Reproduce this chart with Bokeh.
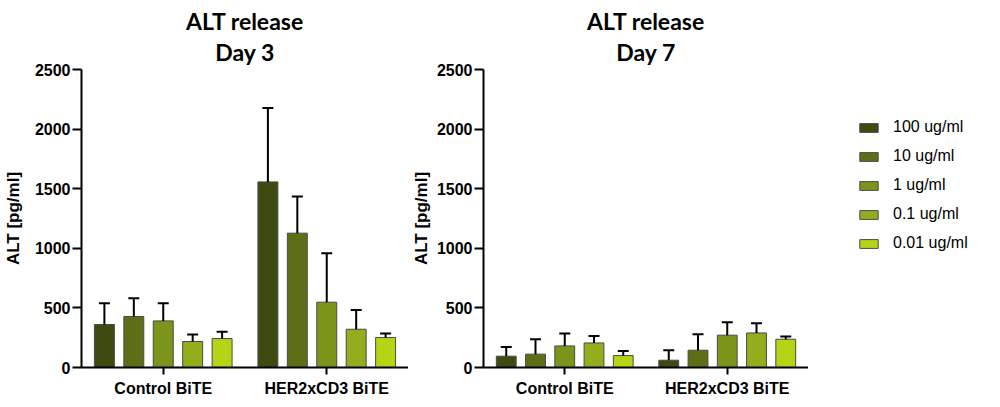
from bokeh.plotting import figure
from bokeh.models import (ColumnDataSource, FactorRange, Range1d, FixedTicker,
                          Title, Legend, LegendItem)
from bokeh.transform import dodge
from bokeh.layouts import row
from bokeh.embed import file_html
from bokeh.resources import INLINE

categories = ["Control BiTE", "HER2xCD3 BiTE"]
doses = ["100 ug/ml", "10 ug/ml", "1 ug/ml", "0.1 ug/ml", "0.01 ug/ml"]
colors = ["#3d4b10", "#5c6f17", "#7a951a", "#93ae1d", "#b6d416"]
y_ticks = [0, 500, 1000, 1500, 2000, 2500]

day3_control_mean = [361, 428, 391, 218, 243]
day3_control_sd = [178, 153, 148, 59, 56]
day3_her2_mean = [1557, 1127, 548, 321, 252]
day3_her2_sd = [621, 308, 411, 162, 33]

day7_control_mean = [95, 112, 181, 206, 100]
day7_control_sd = [78, 125, 104, 59, 39]
day7_her2_mean = [61, 145, 271, 290, 237]
day7_her2_sd = [84, 134, 109, 82, 23]

BAR_W = 0.122
STEP = 0.18
TXT = "Liberation Sans"
TITLE_FONT = "Lato"
BAR_LINE = "#4a4a4a"


def dose_sources(c_mean, c_sd, h_mean, h_sd):
    return [ColumnDataSource(dict(
        cat=categories,
        mean=[c_mean[i], h_mean[i]],
        upper=[c_mean[i] + c_sd[i], h_mean[i] + h_sd[i]],
    )) for i in range(len(doses))]


def make_panel(day, sources, fw, toff, label_standoff):
    p = figure(x_range=FactorRange(factors=categories, range_padding=0),
               y_range=Range1d(0, 2500),
               frame_width=fw, frame_height=298,
               min_border_left=0, min_border_right=0,
               min_border_top=0, min_border_bottom=0,
               output_backend="svg", toolbar_location=None,
               title=" ")
    # spacer title on the outside, then the two centred title lines
    p.title.text_font_size = "1px"
    p.title.standoff = 4
    p.add_layout(Title(text=day, align="center", offset=toff, standoff=8,
                       text_font=TITLE_FONT, text_font_size="23px",
                       text_font_style="bold", text_color="black"), "above")
    p.add_layout(Title(text="ALT release", align="center", offset=toff,
                       standoff=-6, text_font=TITLE_FONT,
                       text_font_size="23px", text_font_style="bold",
                       text_color="black"), "above")

    for i, (src, col) in enumerate(zip(sources, colors)):
        xs = dodge("cat", (i - 2) * STEP, range=p.x_range)
        p.vbar(x=xs, top="mean", width=BAR_W, bottom=0, source=src,
               fill_color=col, line_color=BAR_LINE, line_width=1)
        p.segment(x0=xs, y0="mean", x1=xs, y1="upper", source=src,
                  line_color="black", line_width=2)
        p.scatter(x=xs, y="upper", source=src, marker="dash", size=11,
                  line_color="black", line_width=2)

    p.xgrid.grid_line_color = None
    p.ygrid.grid_line_color = None
    p.outline_line_color = None

    p.yaxis.ticker = FixedTicker(ticks=y_ticks)
    p.yaxis.axis_label = "ALT [pg/ml]"
    p.yaxis.axis_label_text_font = TXT
    p.yaxis.axis_label_text_font_size = "17px"
    p.yaxis.axis_label_text_font_style = "bold"
    p.yaxis.axis_label_text_color = "black"
    p.yaxis.axis_label_standoff = label_standoff
    p.yaxis.major_tick_out = 9
    p.yaxis.major_tick_in = 0
    p.yaxis.minor_tick_line_color = None
    p.yaxis.major_label_standoff = 2

    p.xaxis.major_tick_out = 7
    p.xaxis.major_tick_in = 0
    p.xaxis.major_label_standoff = 5
    p.xaxis.axis_label_standoff = 0

    for ax in (p.xaxis, p.yaxis):
        ax.axis_line_width = 2
        ax.axis_line_color = "black"
        ax.major_tick_line_width = 2
        ax.major_tick_line_color = "black"
        ax.major_label_text_font = TXT
        ax.major_label_text_font_size = "16px"
        ax.major_label_text_font_style = "bold"
        ax.major_label_text_color = "black"
    return p


src3 = dose_sources(day3_control_mean, day3_control_sd,
                    day3_her2_mean, day3_her2_sd)
src7 = dose_sources(day7_control_mean, day7_control_sd,
                    day7_her2_mean, day7_her2_sd)

p1 = make_panel("Day 3", src3, 327, 1, 9)
p2 = make_panel("Day 7", src7, 325, 14, 3)

# legend panel: own canvas; its keyed bars share the Day 7 data but are
# hidden, so only the legend entries are painted
p3 = figure(width=165, height=360,
            x_range=FactorRange(factors=categories, range_padding=0),
            y_range=Range1d(0, 2500),
            min_border_left=0, min_border_right=0, min_border_top=0,
            min_border_bottom=0, output_backend="svg", toolbar_location=None)
p3.axis.visible = False
p3.grid.visible = False
p3.outline_line_color = None
items = []
for i, (dose, src, col) in enumerate(zip(doses, src7, colors)):
    xs = dodge("cat", (i - 2) * STEP, range=p3.x_range)
    r = p3.vbar(x=xs, top="mean", width=BAR_W, bottom=0, source=src,
                fill_color=col, line_color=BAR_LINE, line_width=1)
    r.visible = False
    items.append(LegendItem(label=dose, renderers=[r]))
legend = Legend(items=items, location=(49, 75),
                orientation="vertical",
                glyph_width=23, glyph_height=11, label_height=20, spacing=9,
                padding=0, margin=0, label_standoff=13,
                border_line_color=None, background_fill_alpha=0,
                inactive_fill_alpha=0, click_policy="none",
                label_text_font=TXT, label_text_font_size="16px",
                label_text_color="black")
p3.add_layout(legend, "center")

layout = row(p1, p2, p3)
open("out.html", "w").write(file_html(layout, INLINE))
